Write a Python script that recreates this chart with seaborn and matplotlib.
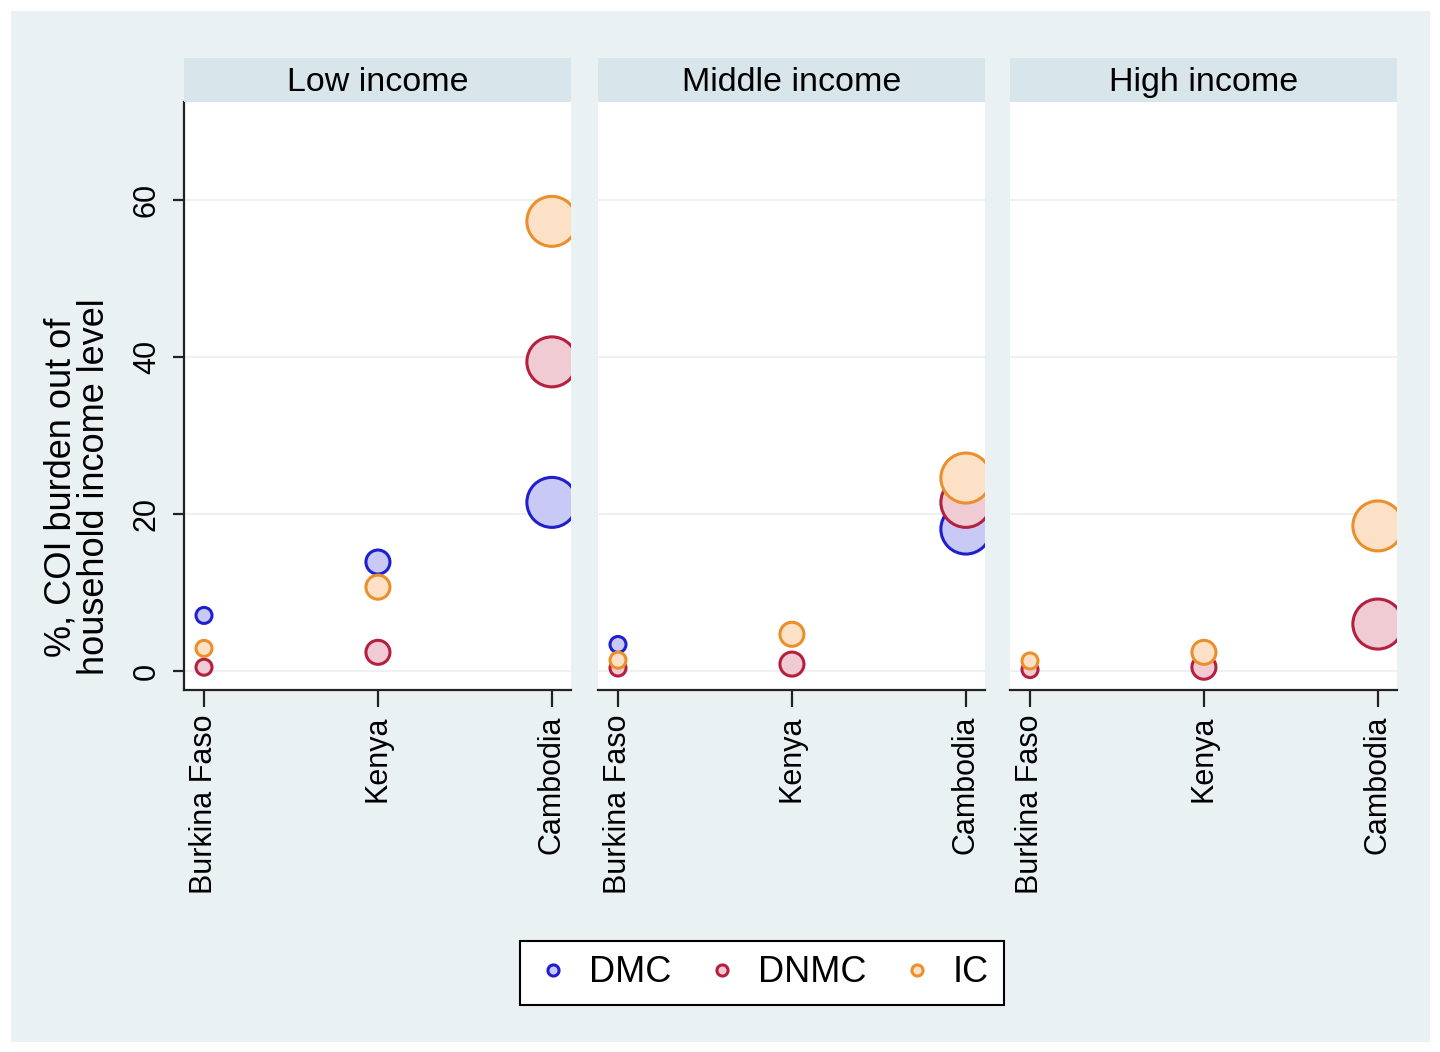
import numpy as np
import pandas as pd
import matplotlib.pyplot as plt
from matplotlib.lines import Line2D
import seaborn as sns

# data
countries = ["Burkina Faso", "Kenya", "Cambodia"]
income_groups = ["Low income", "Middle income", "High income"]
cost_types = ["DMC", "DNMC", "IC"]
# relative bubble weight per country (same in every panel)
country_weight = [120, 270, 1170]

# % of household income, rows = country, one list per income group
dmc = {
    "Low income": [7.1, 13.9, 21.5],
    "Middle income": [3.4, np.nan, 18.1],
    "High income": [np.nan, np.nan, np.nan],
}
dnmc = {
    "Low income": [0.5, 2.4, 39.4],
    "Middle income": [0.4, 0.9, 21.5],
    "High income": [0.2, 0.5, 6.0],
}
ic = {
    "Low income": [2.9, 10.7, 57.3],
    "Middle income": [1.4, 4.7, 24.6],
    "High income": [1.3, 2.4, 18.5],
}

rows = []
for name, table in zip(cost_types, [dmc, dnmc, ic]):
    for grp in income_groups:
        for i, c in enumerate(countries):
            rows.append({"cost": name, "income": grp, "country": c,
                         "pos": i, "value": table[grp][i],
                         "weight": country_weight[i]})
df = pd.DataFrame(rows).dropna()

edge_cols = {"DMC": "#1f1fd0", "DNMC": "#b5203f", "IC": "#ea8f2c"}
fill_cols = {"DMC": "#c9c9f6", "DNMC": "#f0cbd3", "IC": "#fde1c6"}

sns.set_style("white", rc={"text.color": "black", "axes.labelcolor": "black",
                           "xtick.color": "black", "ytick.color": "black"})
plt.rcParams["font.family"] = ["Liberation Sans", "DejaVu Sans"]

bg = "#eaf1f3"
fig = plt.figure(figsize=(14.4, 10.52), dpi=100)
fig.patch.set_facecolor(bg)
fig.patch.set_edgecolor("white")
fig.patch.set_linewidth(14)

W, H = 1440, 1052
lefts = [184, 598, 1010]
pw = 387
top, bot = 102, 690
strip_h = 44

for k, grp in enumerate(income_groups):
    ax = fig.add_axes([lefts[k] / W, 1 - bot / H, pw / W, (bot - top) / H])
    ax.set_facecolor("white")
    for y in [0, 20, 40, 60]:
        ax.axhline(y, color="#eef1f1", lw=1.5, zorder=0)
    sub = df[df["income"] == grp]
    for name in cost_types:
        d = sub[sub["cost"] == name]
        sns.scatterplot(data=d, x="pos", y="value", size="weight",
                        sizes=(0, 1296), size_norm=(0, max(country_weight)),
                        color=fill_cols[name], edgecolor=edge_cols[name],
                        linewidth=2.2, legend=False, ax=ax, zorder=3)
    ax.set_xlim(-0.115, 2.11)
    ax.set_ylim(-2.4, 72.5)
    ax.set_xticks(range(len(countries)))
    ax.set_xticklabels(countries, rotation=90, fontsize=22)
    ax.set_xlabel("")
    ax.set_ylabel("")
    for s in ["top", "right"]:
        ax.spines[s].set_visible(False)
    ax.spines["bottom"].set_color("#222222")
    ax.spines["bottom"].set_linewidth(1.6)
    ax.tick_params(axis="x", length=12, width=1.6, color="#222222", pad=6,
                   bottom=True)
    if k == 0:
        ax.spines["left"].set_color("#222222")
        ax.spines["left"].set_linewidth(1.6)
        ax.set_yticks([0, 20, 40, 60])
        ax.set_yticklabels(["0", "20", "40", "60"], rotation=90,
                           va="center", fontsize=22)
        ax.tick_params(axis="y", length=8, width=1.6, color="#222222",
                       pad=8, left=True)
        ax.set_ylabel("%, COI burden out of\nhousehold income level",
                      fontsize=26, linespacing=0.95)
        ax.yaxis.set_label_coords(-0.186, 0.345)
    else:
        ax.spines["left"].set_visible(False)
        ax.set_yticks([0, 20, 40, 60])
        ax.set_yticklabels([])
        ax.tick_params(axis="y", length=0)

    sax = fig.add_axes([lefts[k] / W, 1 - top / H, pw / W, strip_h / H])
    sax.set_facecolor("#d8e6ec")
    sax.set_xticks([])
    sax.set_yticks([])
    for s in sax.spines.values():
        s.set_visible(False)
    sax.text(0.5, 0.45, grp, ha="center", va="center", fontsize=24.5,
             transform=sax.transAxes)

handles = [Line2D([], [], marker="o", ls="", markersize=8,
                  markerfacecolor=fill_cols[n], markeredgecolor=edge_cols[n],
                  markeredgewidth=2.2, label=n) for n in cost_types]
leg = fig.legend(handles=handles, loc="center", ncol=3,
                 bbox_to_anchor=(762 / W, 1 - 973 / H), fontsize=26,
                 frameon=True, fancybox=False, edgecolor="black",
                 facecolor="white", framealpha=1,
                 handletextpad=0.5, columnspacing=0.9, borderpad=0.4,
                 handlelength=1.0)
leg.get_frame().set_linewidth(1.5)

fig.savefig("out.png", dpi=100, facecolor=fig.get_facecolor(),
            edgecolor=fig.get_edgecolor())
